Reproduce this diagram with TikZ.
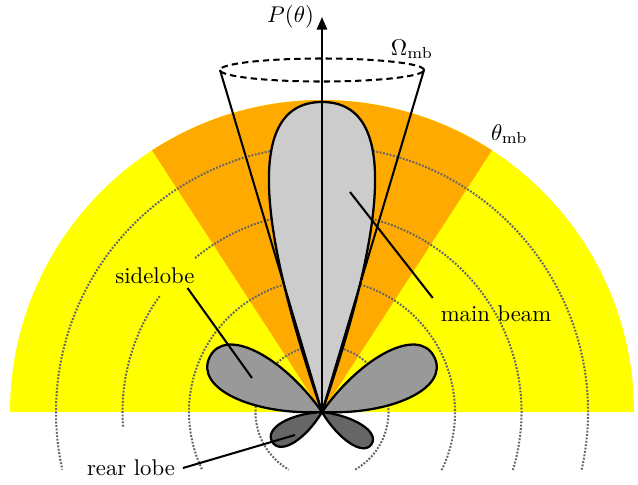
\documentclass[tikz,border=0pt]{standalone}
\usepackage{tikz}
\usetikzlibrary{arrows.meta}

\definecolor{fieldyellow}{HTML}{FFFF00}
\definecolor{beamorange}{HTML}{FFAA00}
\definecolor{beamgray}{HTML}{CCCCCC}
\definecolor{sidegray}{HTML}{999999}
\definecolor{reargray}{HTML}{666666}

\begin{document}
\begin{tikzpicture}[
  x=0.44pt, y=0.44pt,
  lobe/.style={draw, line width=1pt, line join=round},
  ring/.style={black!60, line width=0.9pt, dash pattern=on 0.8pt off 0.7pt},
  lead/.style={line width=0.9pt},
  cone/.style={line width=0.9pt}
]
\useasboundingbox (-322,-72) rectangle (316,412);
\coordinate (O) at (0,0);
\coordinate (cl) at (-102,342);
\coordinate (cr) at (102,342);
\coordinate (top) at (0,395);

% half-space and main-beam sector
\fill[fieldyellow] (O) -- (0:312) arc[start angle=0, end angle=180, radius=312] -- cycle;
\fill[beamorange] (O) -- (57:312) arc[start angle=57, end angle=123, radius=312] -- cycle;

% distance rings
\foreach \r/\a in {66.5/60, 133/25.9, 266/12.5}
  \draw[ring] (-\a:\r) arc[start angle=-\a, end angle=180+\a, radius=\r];
\draw[ring] (-16.9:199.5) arc[start angle=-16.9, end angle=129.8, radius=199.5];
\draw[ring] (144.5:199.5) arc[start angle=144.5, end angle=184.3, radius=199.5];

% lobes
\draw[lobe, fill=sidegray, rotate=154] (O) .. controls (60,33) and (125,35) .. (125,0) .. controls (125,-35) and (60,-33) .. (O);
\draw[lobe, fill=sidegray, rotate=26] (O) .. controls (60,33) and (125,35) .. (125,0) .. controls (125,-35) and (60,-33) .. (O);
\draw[lobe, fill=reargray, rotate=211] (O) .. controls (28,15) and (58,16) .. (58,0) .. controls (58,-16) and (28,-15) .. (O);
\draw[lobe, fill=reargray, rotate=-33] (O) .. controls (28,14) and (59,15) .. (59,0) .. controls (59,-15) and (28,-14) .. (O);
\draw[lobe, fill=beamgray] (O) .. controls (-55,160) and (-85,310) .. (0,310) .. controls (85,310) and (55,160) .. (O);

% solid angle cone
\draw[cone] (O) -- (cl);
\draw[cone] (O) -- (cr);
\draw[cone, dash pattern=on 2.8pt off 1.8pt] (0,342) ellipse [x radius=102, y radius=11.5];
\draw[line width=0.9pt, -{Triangle[length=5.5pt, width=4.5pt]}] (O) -- (top);

% labels
\node[left] (pth) at (top) {$P(\theta)$};
\node (omb) at (90,363) {$\Omega_\mathrm{mb}$};
\node (tmb) at (56:335) {$\theta_\mathrm{mb}$};
\node (sl) at (-167,136) {sidelobe};
\node (mb) at (174,98) {main beam};
\node (rl) at (-191,-56) {rear lobe};
\coordinate (slend) at (-70,34);
\coordinate (mbend) at (28,220);
\coordinate (rlend) at (-27,-23);
\draw[lead] (sl.south east) ++(-15,4) -- (slend);
\draw[lead] (mb.north west) -- (mbend);
\draw[lead] (rl.east) -- (rlend);
\end{tikzpicture}
\end{document}
